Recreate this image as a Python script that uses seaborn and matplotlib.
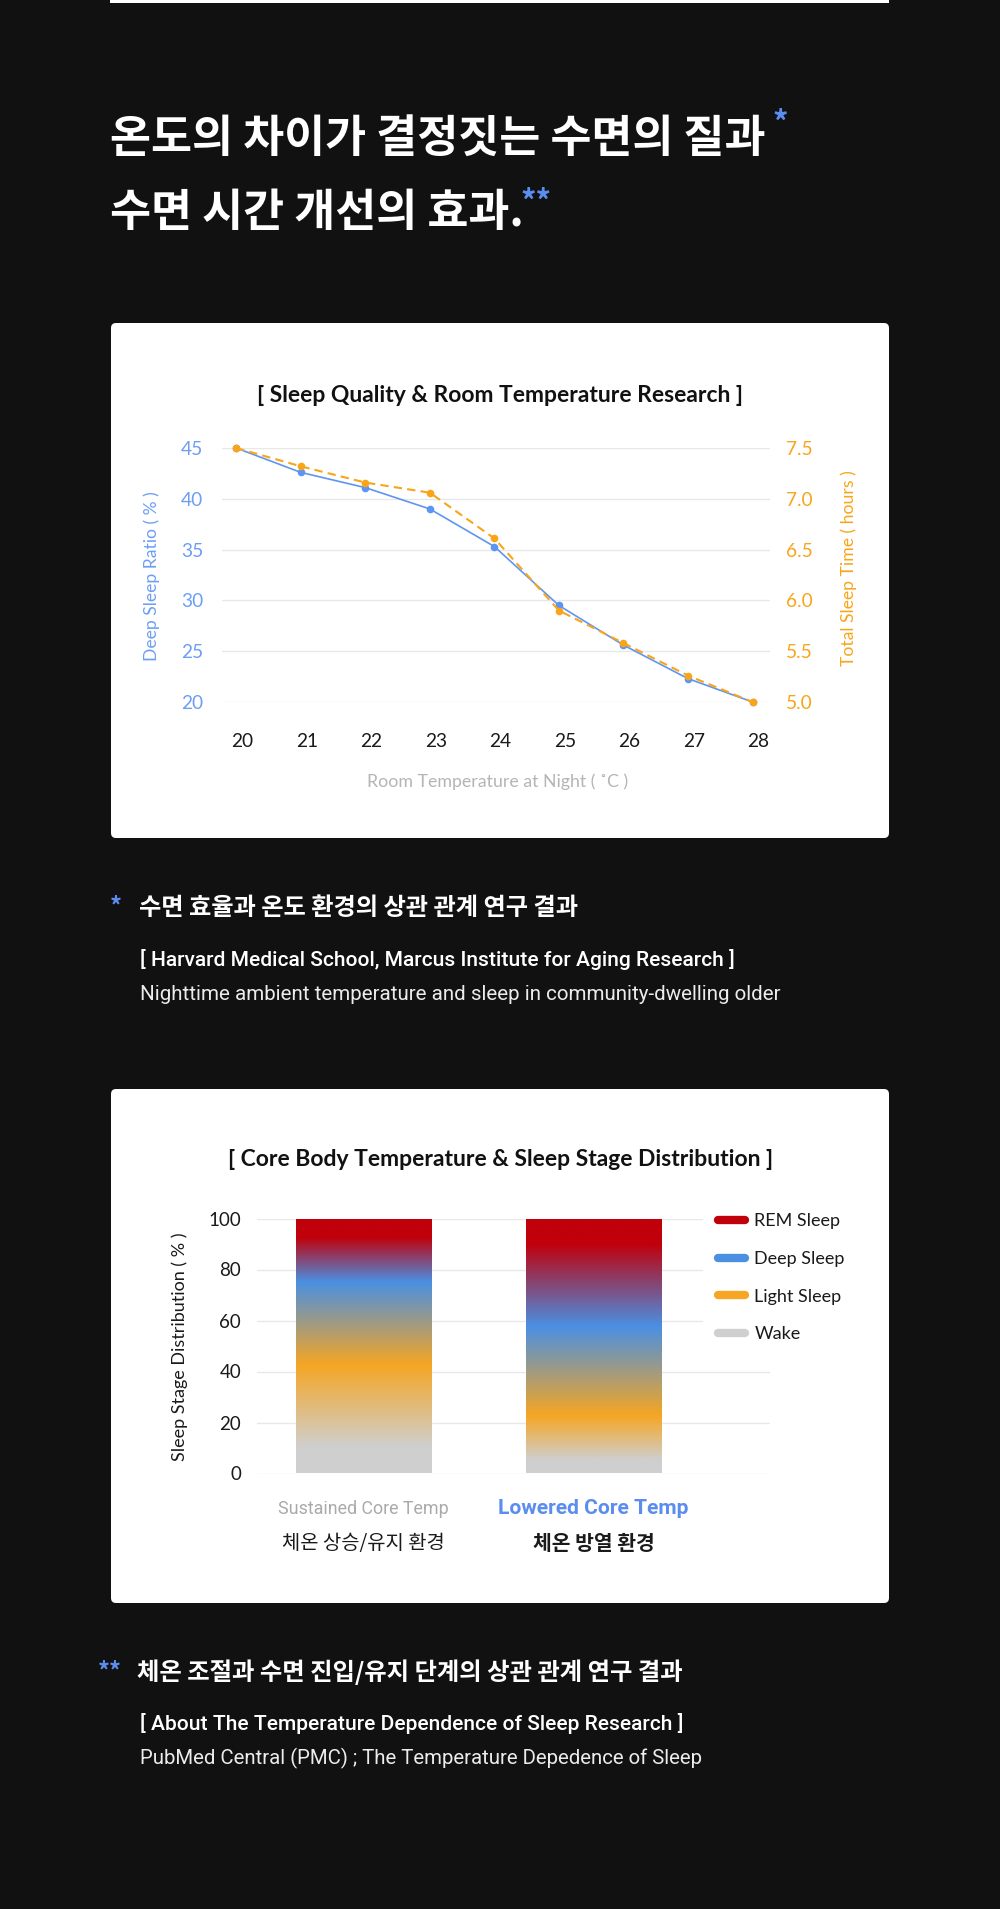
import matplotlib
matplotlib.use("Agg")
import matplotlib.pyplot as plt
import matplotlib.transforms as mtransforms
import numpy as np
import seaborn as sns
from matplotlib.colors import to_rgb
from matplotlib.lines import Line2D
from matplotlib.patches import FancyBboxPatch, Rectangle

# chart 1: sleep quality vs room temperature
temps = [20, 21, 22, 23, 24, 25, 26, 27, 28]
deep_sleep_pct = [45.0, 42.6, 41.1, 39.0, 35.3, 29.5, 25.6, 22.3, 20.0]
sleep_hours = [7.50, 7.32, 7.16, 7.06, 6.61, 5.90, 5.58, 5.26, 5.00]
deep_ticks = [20, 25, 30, 35, 40, 45]
hour_ticks = [5.0, 5.5, 6.0, 6.5, 7.0, 7.5]

# chart 2: sleep stage distribution by core temperature
conditions = ["Sustained Core Temp", "Lowered Core Temp"]
conditions_kr = ["체온 상승/유지 환경", "체온 방열 환경"]
wake_pct = [20, 10]
light_pct = [45, 25]
deep_pct = [20, 45]
rem_pct = [15, 20]
stage_ticks = [0, 20, 40, 60, 80, 100]

W, H = 1000, 1909
BG = "#111111"
ACCENT = "#5b8def"
BLUE_LINE = "#5f95f2"
BLUE_TXT = "#6d9ef5"
ORANGE = "#f9a51a"
GRID = "#e8e8e8"
STAGE_COLORS = {"REM Sleep": "#c0000b", "Deep Sleep": "#4a90e2",
                "Light Sleep": "#f5a623", "Wake": "#cfcfcf"}

sns.set_theme(style="white")
plt.rcParams["font.family"] = ["Lato", "Noto Sans CJK KR", "DejaVu Sans"]
KR = ["Noto Sans CJK KR", "DejaVu Sans"]
EN = ["Roboto", "Noto Sans CJK KR", "DejaVu Sans"]

fig = plt.figure(figsize=(W / 100, H / 100), dpi=100, facecolor=BG)
renderer = fig.canvas.get_renderer()
pix = mtransforms.IdentityTransform()


def fx(x):
    return x / W


def fy(y):
    return 1 - y / H


def put(x, y, s, size, width=None, transform=None, **kw):
    kw.setdefault("va", "center")
    if transform is None:
        t = fig.text(fx(x), fy(y), s, fontsize=size, **kw)
    else:
        t = fig.text(x, fy(y), s, fontsize=size, transform=transform, **kw)
    if width:
        t.set_fontsize(size * width / t.get_window_extent(renderer).width)
    return t


def card(top, bottom):
    fig.add_artist(FancyBboxPatch((111, H - bottom), 778, bottom - top,
                                  boxstyle="round,pad=0,rounding_size=5", transform=pix,
                                  facecolor="white", edgecolor="none", zorder=-5))


def clean(ax):
    for sp in ax.spines.values():
        sp.set_visible(False)
    ax.set_xlabel("")
    ax.set_ylabel("")


# header
fig.add_artist(Rectangle((110, H - 3), 779, 3, transform=pix, facecolor="white",
                         edgecolor="none", zorder=-5))
t1 = put(110, 139, "온도의 차이가 결정짓는 수면의 질과", 30, width=657,
         family=KR, weight="bold", color="white")
put(110, 213, "수면 시간 개선의 효과.", t1.get_fontsize(), family=KR, weight="bold", color="white")
put(780, 124, "*", 22, ha="center", family=KR, weight="bold", color=ACCENT)
put(536, 203, "**", 22, ha="center", family=KR, weight="bold", color=ACCENT)

# ---- chart 1 ----
card(323, 838)
put(500, 395, "[ Sleep Quality & Room Temperature Research ]", 16, width=488,
    ha="center", weight="bold", color="#111111")

ax1 = fig.add_axes([fx(222), fy(702), (770 - 222) / W, (702 - 448) / H])
ax1.set_facecolor("none")
sns.lineplot(x=temps, y=deep_sleep_pct, ax=ax1, color=BLUE_LINE, linewidth=1.2,
             marker="o", markersize=5.5, markeredgewidth=0)
ax1b = ax1.twinx()
sns.lineplot(x=temps, y=sleep_hours, ax=ax1b, color=ORANGE, linewidth=1.5,
             linestyle=(0, (4, 2.5)), marker="o", markersize=5.5, markeredgewidth=0)

ax1.set_xlim(19.78, 28.27)
ax1.set_ylim(20, 45)
ax1.set_xticks(temps)
ax1.set_yticks(deep_ticks)
ax1.yaxis.grid(True, color=GRID, linewidth=1)
ax1.xaxis.grid(False)
ax1.tick_params(axis="y", length=0, pad=13.5, labelsize=13.8, labelcolor=BLUE_TXT)
ax1.tick_params(axis="x", length=0, pad=22, labelsize=13.8, labelcolor="#1a1a1a")
ax1b.set_ylim(5, 7.5)
ax1b.set_yticks(hour_ticks)
ax1b.set_yticklabels([f"{v:.1f}" for v in hour_ticks])
ax1b.grid(False)
ax1b.tick_params(axis="y", length=0, pad=11.5, labelsize=13.8, labelcolor=ORANGE)
clean(ax1)
clean(ax1b)
for ln in ax1.lines + ax1b.lines:
    ln.set_clip_on(False)
shift = mtransforms.ScaledTranslation(0.06, 0, fig.dpi_scale_trans)
for lab in ax1.get_xticklabels():
    lab.set_transform(lab.get_transform() + shift)

put(152, 576, "Deep Sleep Ratio ( % )", 12.6, ha="center", rotation=90, color=BLUE_TXT)
put(849, 568, "Total Sleep Time ( hours )", 12.7, ha="center", rotation=90, color=ORANGE)
put(498, 782, "Room Temperature at Night ( ˚C )", 12, width=260, ha="center", color="#b5b5b5")

# ---- chart 2 ----
card(1089, 1603)
put(501, 1160, "[ Core Body Temperature & Sleep Stage Distribution ]", 16, width=547,
    ha="center", weight="bold", color="#111111")

ax2 = fig.add_axes([fx(256.5), fy(1473.5), (770 - 256.5) / W, (1473.5 - 1218.5) / H])
ax2.set_facecolor("none")
totals = [w + l + d + r for w, l, d, r in zip(wake_pct, light_pct, deep_pct, rem_pct)]
sns.barplot(x=conditions, y=totals, ax=ax2, color="white", width=0.587, saturation=1)

# each bar is filled with a vertical blend of its stage colours, anchored at segment midpoints
stage_rgb = [to_rgb(STAGE_COLORS[k]) for k in ["Wake", "Light Sleep", "Deep Sleep", "REM Sleep"]]
for i, patch in enumerate(ax2.patches):
    bounds = np.cumsum([0, wake_pct[i], light_pct[i], deep_pct[i], rem_pct[i]])
    mids = (bounds[:-1] + bounds[1:]) / 2
    stops = np.r_[0, mids, bounds[-1]]
    cols = [stage_rgb[0]] + stage_rgb + [stage_rgb[-1]]
    yy = np.linspace(0, bounds[-1], 400)
    grad = np.stack([np.interp(yy, stops, [c[k] for c in cols]) for k in range(3)], axis=-1)
    x0, y0 = patch.get_x(), patch.get_y()
    im = ax2.imshow(grad[:, None, :], extent=[x0, x0 + patch.get_width(), y0, y0 + patch.get_height()],
                    origin="lower", aspect="auto", interpolation="bilinear", zorder=3)
    im.set_clip_path(patch)

ax2.set_xlim(-0.465, 1.767)
ax2.set_ylim(0, 100)
ax2.set_yticks(stage_ticks)
ax2.set_xticks([])
ax2.yaxis.grid(True, color=GRID, linewidth=1)
ax2.set_axisbelow(True)
ax2.tick_params(axis="y", length=0, pad=11, labelsize=13.5, labelcolor="#1a1a1a")
clean(ax2)

handles = [Line2D([0], [0], color=STAGE_COLORS[k], lw=6, solid_capstyle="round")
           for k in STAGE_COLORS]
ax2.legend(handles, list(STAGE_COLORS), loc="upper left", bbox_to_anchor=(fx(703), fy(1198)),
           bbox_transform=fig.transFigure, frameon=True, facecolor="white", edgecolor="none",
           framealpha=1, fancybox=False, fontsize=13, handlelength=1.45, handletextpad=0.55,
           labelspacing=1.2, borderpad=0.85, borderaxespad=0, labelcolor="#1a1a1a")

bar_x = mtransforms.blended_transform_factory(ax2.transData, fig.transFigure)
put(0, 1509, conditions[0], 12, width=170, transform=bar_x, ha="center", family=EN, color="#aaaaaa")
put(1, 1509, conditions[1], 13, width=190, transform=bar_x, ha="center", family=EN,
    weight="bold", color=ACCENT)
put(0, 1543, conditions_kr[0], 13, width=163, transform=bar_x, ha="center", family=KR, color="#1a1a1a")
put(1, 1543, conditions_kr[1], 13, width=122, transform=bar_x, ha="center", family=KR,
    weight="bold", color="#1a1a1a")
put(180, 1347, "Sleep Stage Distribution ( % )", 13, ha="center", rotation=90, color="#1a1a1a")

# ---- footnotes ----
put(116, 906, "*", 17, ha="center", family=KR, weight="bold", color=ACCENT)
put(139, 908, "수면 효율과 온도 환경의 상관 관계 연구 결과", 16, width=441,
    family=KR, weight="bold", color="white")
put(139.5, 960, "[ Harvard Medical School, Marcus Institute for Aging Research ]", 14, width=597,
    family=EN, weight="medium", color="white")
put(139.5, 994, "Nighttime ambient temperature and sleep in community-dwelling older", 14, width=645,
    family=EN, weight="normal", color="#ececec")

put(110, 1671, "**", 17, ha="center", family=KR, weight="bold", color=ACCENT)
put(137, 1672, "체온 조절과 수면 진입/유지 단계의 상관 관계 연구 결과", 16, width=548,
    family=KR, weight="bold", color="white")
put(140, 1723, "[ About The Temperature Dependence of Sleep Research ]", 14, width=543,
    family=EN, weight="medium", color="white")
put(140, 1758, "PubMed Central (PMC) ; The Temperature Depedence of Sleep", 14, width=568,
    family=EN, weight="normal", color="#ececec")

fig.savefig("out.png", dpi=100, facecolor=BG)
